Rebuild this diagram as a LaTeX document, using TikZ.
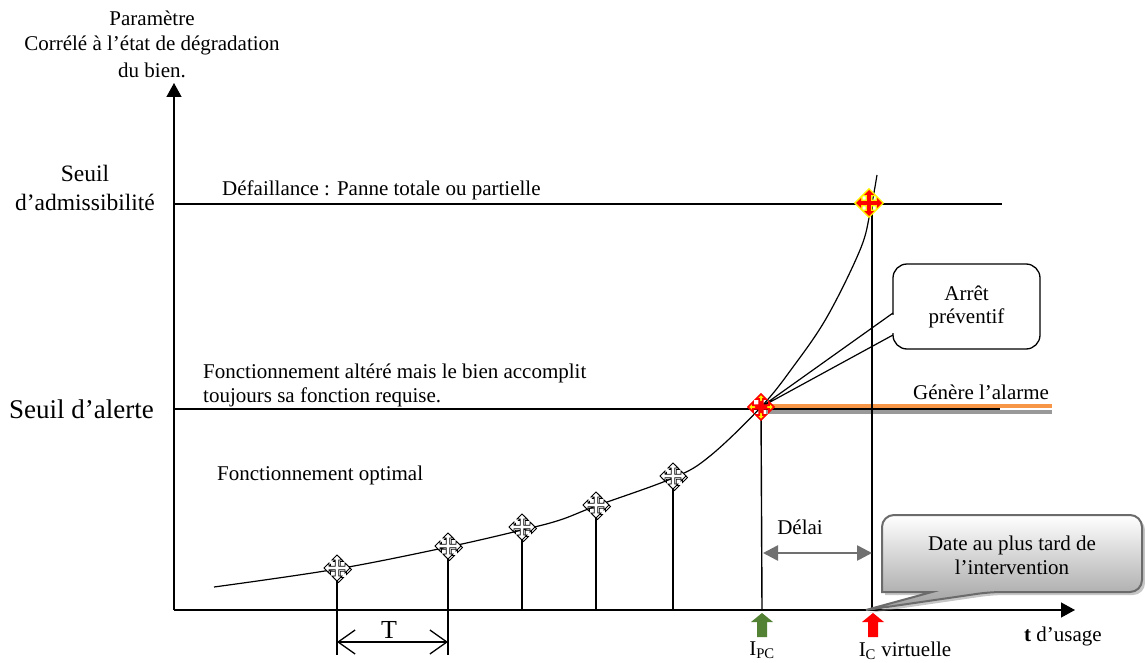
\documentclass[tikz,border=0pt]{standalone}
\usepackage{fontspec}
\setmainfont{Liberation Serif}
\usetikzlibrary{arrows.meta,shadows,calc}
\definecolor{okgreen}{RGB}{84,130,53}
\definecolor{alarmorange}{RGB}{247,150,70}
\definecolor{delaigray}{RGB}{112,112,112}
\begin{document}
\begin{tikzpicture}[x=1pt,y=-1pt,
  lbl/.style={font=\fontsize{21}{24}\selectfont, inner sep=0pt},
  seuil/.style={font=\fontsize{23.5}{29}\selectfont, inner sep=0pt, align=center},
  axisline/.style={line width=1.3pt},
  thin line/.style={line width=1.2pt},
  stem/.style={line width=1.4pt},
  axis tip/.style={-{Triangle[length=14pt,width=15pt]}},
  delai arrow/.style={draw=delaigray, line width=2.6pt,
    {Triangle[length=15pt,width=15pt]}-{Triangle[length=15pt,width=15pt]}},
  period arrow/.style={line width=1.3pt,
    {Straight Barb[length=17pt,width=24pt,line width=1.3pt]}-{Straight Barb[length=17pt,width=24pt,line width=1.3pt]}},
  move glyph/.pic={
    \path[pic actions] (0,-13) -- (5,-8) -- (1.8,-8) -- (1.8,-1.8) -- (8,-1.8) -- (8,-5)
      -- (13,0) -- (8,5) -- (8,1.8) -- (1.8,1.8) -- (1.8,8) -- (5,8) -- (0,13)
      -- (-5,8) -- (-1.8,8) -- (-1.8,1.8) -- (-8,1.8) -- (-8,5) -- (-13,0)
      -- (-8,-5) -- (-8,-1.8) -- (-1.8,-1.8) -- (-1.8,-8) -- (-5,-8) -- cycle;
  },
  up block/.pic={
    \fill[pic actions] (-5,24) -- (-5,9) -- (-11,9) -- (0,0) -- (11,9) -- (5,9) -- (5,24) -- cycle;
  },
  white mark/.style={draw=black, fill=white, line width=0.8pt},
]
\useasboundingbox (0,0) rectangle (1145,663);

% ---- key points -------------------------------------------------------
\coordinate (O) at (174,610);
\coordinate (ytop) at (174,83);
\coordinate (xend) at (1075,610);
\coordinate (m1) at (337,568);
\coordinate (m2) at (448,546);
\coordinate (m3) at (522,527);
\coordinate (m4) at (596,505);
\coordinate (m5) at (673,476);
\coordinate (alert) at (761,407);
\coordinate (fail) at (869,203);
\coordinate (b1) at (337,655);
\coordinate (b2) at (448,655);
\coordinate (b3) at (522,610);
\coordinate (b4) at (596,610);
\coordinate (b5) at (673,610);
\coordinate (b6) at (762,610);
\coordinate (vtop) at (872,203);
\coordinate (vbot) at (872,610);
\coordinate (failL) at (174,204);
\coordinate (failR) at (1002,204);
\coordinate (alertL) at (174,409);
\coordinate (alertR) at (1000,409);

% ---- threshold lines ---------------------------------------------------
\draw[thin line] (failL) -- (failR);
\draw[draw=black!40, line width=4pt] (766,412) -- (1052,412);
\draw[draw=alarmorange, line width=4pt] (762,406) -- (1052,406);
\draw[thin line] (alertL) -- (alertR);

% ---- axes --------------------------------------------------------------
\draw[axisline, axis tip] (O) -- (ytop);
\draw[axisline, axis tip] (O) -- (xend);

% ---- inspection stems --------------------------------------------------
\draw[stem] (m1) -- (b1);
\draw[stem] (m2) -- (b2);
\draw[stem] (m3) -- (b3);
\draw[stem] (m4) -- (b4);
\draw[stem] (m5) -- (b5);
\draw[stem] (alert) -- (b6);
\draw[stem] (vtop) -- (vbot);

% ---- degradation curve -------------------------------------------------
\draw[thin line] plot[smooth, tension=0.6] coordinates {
  (214,587) (337,569) (448,547) (522,530) (560,520) (596,506) (673,478)
  (710,456) (761,407) (793,367) (827,317) (860,250) (870,213) (877,175)};

% ---- Arrêt préventif callout --------------------------------------------
\node[draw, line width=1.3pt, rounded corners=14pt, fill=white,
  minimum width=147pt, minimum height=85pt, align=center,
  font=\fontsize{21}{23}\selectfont] (arret) at (966.5,306.5) {Arrêt\\préventif};
\coordinate (pa) at (893,313);
\coordinate (pb) at (893,335);
\draw[white, line width=2.5pt] (893,315) -- (893,333);
\draw[thin line] (pa) -- (alert) -- (pb);

% ---- markers -------------------------------------------------------------
\foreach \m in {m1,m2,m3,m4,m5}{
  \pic[draw=black, line width=0.8pt] at ($(\m)+(1.5,1.5)$) {move glyph};
  \pic[white mark] at (\m) {move glyph};
}
\pic[draw=red, fill=yellow, line width=1.6pt] at (alert) {move glyph};
\pic[fill=red, scale=0.5] at (alert) {move glyph};
\pic[draw=yellow, fill=red, line width=3pt] at (fail) {move glyph};
\pic[fill=red] at (fail) {move glyph};

% ---- period and delay arrows ---------------------------------------------
\coordinate (t1) at (337,642);
\coordinate (t2) at (448,642);
\draw[period arrow] (t1) -- (t2);
\node[font=\fontsize{26}{26}\selectfont, inner sep=0pt] (tlabel) at (389,630) {T};
\coordinate (d1) at (763,553);
\coordinate (d2) at (872,553);
\draw[delai arrow] (d1) -- (d2);
\node[lbl] (delai) at (800,527) {Délai};

% ---- intervention arrows -------------------------------------------------
\pic[fill=okgreen] at (762,613) {up block};
\pic[fill=red] at (873,613) {up block};

% ---- date callout ---------------------------------------------------------
\path[drop shadow={opacity=0.45, shadow xshift=3pt, shadow yshift=-3pt},
  top color=white, bottom color=black!38, draw=black!58, line width=2pt]
  (882,560) [rounded corners=12pt] -- (882,515) -- (1142,515) -- (1142,592) -- (990,592)
  [sharp corners] -- (866,610) -- (932,592) -- (882,592) [rounded corners=12pt] -- cycle;
\node[lbl, align=center, font=\fontsize{21}{24}\selectfont] (date) at (1012,555)
  {Date au plus tard de\\l’intervention};

% ---- labels ----------------------------------------------------------------
\node[lbl, align=center, font=\fontsize{21}{25}\selectfont] (param) at (152,44)
  {Paramètre\\Corrélé à l’état de dégradation\\[2pt]du bien.};
\node[seuil] (sadm) at (85,188) {Seuil\\d’admissibilité};
\node[seuil, anchor=west, font=\fontsize{27}{29}\selectfont] (salert) at (9,409)
  {Seuil d’alerte};
\node[lbl, anchor=west] (defa) at (222,190) {Défaillance : Panne totale ou partielle};
\node[lbl, anchor=west, align=left] (alt) at (203,385)
  {Fonctionnement altéré mais le bien accomplit\\toujours sa fonction requise.};
\node[lbl, anchor=west] (opt) at (217,475) {Fonctionnement optimal};
\node[lbl, anchor=west] (gen) at (913,392) {Génère l’alarme};
\node[lbl] (ipc) at (762,650) {I\textsubscript{PC}};
\node[lbl] (ic) at (905,651) {I\textsubscript{C} virtuelle};
\node[lbl] (tusage) at (1063,636) {\textbf{t} d’usage};
\end{tikzpicture}
\end{document}
